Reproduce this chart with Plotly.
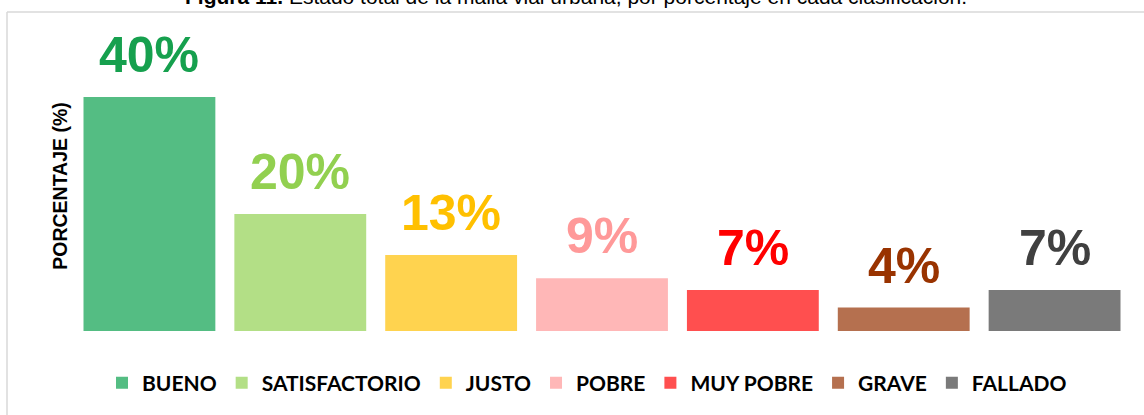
import plotly.graph_objects as go

categories = ["BUENO", "SATISFACTORIO", "JUSTO", "POBRE", "MUY POBRE", "GRAVE", "FALLADO"]
values = [40, 20, 13, 9, 7, 4, 7]
labels = ["40%", "20%", "13%", "9%", "7%", "4%", "7%"]
bar_colors = ["#54BD83", "#B3DF86", "#FFD34F", "#FFB7B7", "#FF4F4F", "#B5704F", "#7A7A7A"]
label_colors = ["#16A04E", "#92D050", "#FFC000", "#FF9999", "#FF0000", "#993300", "#404040"]

W, H = 1144, 415
ML, MR, MT, MB = 74, 14, 41, 84
PW, PH = W - ML - MR, H - MT - MB

def px_x(p):
    return (p - ML) / PW

def px_y(p):
    return (H - MB - p) / PH

fig = go.Figure()
for cat, val, col in zip(categories, values, bar_colors):
    fig.add_trace(go.Bar(
        x=[cat], y=[val], name=cat, marker=dict(color=col, line=dict(width=0)),
        width=0.874, hoverinfo="skip",
    ))

for cat, val, lab, lc in zip(categories, values, labels, label_colors):
    fig.add_annotation(
        x=cat, y=val, xref="x", yref="y", text=lab, showarrow=False,
        yanchor="bottom", yshift=12,
        font=dict(family="Arial, Liberation Sans", size=50, color=lc, weight="bold"),
    )

fig.add_annotation(
    x=px_x(576), y=px_y(-3), xref="paper", yref="paper", showarrow=False,
    xanchor="center", yanchor="middle",
    text="<b>Figura 11.</b> Estado total de la malla vial urbana, por porcentaje en cada clasificación.",
    font=dict(family="Arial, Liberation Sans", size=21, color="#000000"),
)

frame = "#D9D9D9"
fig.add_shape(type="line", xref="paper", yref="paper",
              x0=px_x(7), x1=px_x(7), y0=px_y(12), y1=px_y(430),
              line=dict(color=frame, width=1.5))
fig.add_shape(type="line", xref="paper", yref="paper",
              x0=px_x(7), x1=px_x(1160), y0=px_y(12), y1=px_y(12),
              line=dict(color=frame, width=1.5))

fig.update_layout(
    width=W, height=H,
    margin=dict(l=ML, r=MR, t=MT, b=MB, autoexpand=False),
    paper_bgcolor="white", plot_bgcolor="white",
    barmode="overlay",
    showlegend=True,
    legend=dict(
        orientation="h", x=px_x(587), xanchor="center", y=px_y(383), yanchor="middle",
        font=dict(family="Lato", size=21, color="#000000", weight="bold"),
        itemclick=False, itemdoubleclick=False,
    ),
    xaxis=dict(showticklabels=False, showgrid=False, zeroline=False, showline=False,
               ticks="", categoryorder="array", categoryarray=categories),
    yaxis=dict(range=[0, 40 * PH / 234], showticklabels=False, showgrid=False,
               zeroline=False, showline=False, ticks="",
               title=dict(text="<b>PORCENTAJE (%)</b>", standoff=0,
                          font=dict(family="Arial, Liberation Sans", size=19.5, color="#000000"))),
)

fig.write_html(
    "out.html",
    config={"displayModeBar": False},
    post_script="document.body.style.margin='0px';document.body.style.overflow='hidden';",
)
